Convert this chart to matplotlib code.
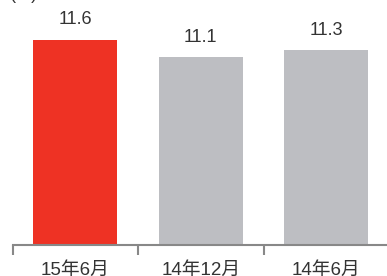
import matplotlib
matplotlib.use("Agg")
import matplotlib.pyplot as plt

categories = ["15年6月", "14年12月", "14年6月"]
values = [11.6, 11.1, 11.3]
colors = ["#EE3224", "#BDBEC2", "#BDBEC2"]

fonts = ["Liberation Sans", "Noto Sans CJK SC", "DejaVu Sans"]
plt.rcParams["font.family"] = fonts

fig = plt.figure(figsize=(3.87, 2.76), dpi=100)
ax = fig.add_axes([12.5 / 387, 1 - 245 / 276, 376.5 / 387, 245 / 276])

x = range(len(values))
ax.bar(x, values, width=0.67, color=colors)
for i, v in enumerate(values):
    ax.text(i, v + 0.33, f"{v:.1f}", ha="center", va="bottom",
            fontsize=13, color="#333333")

ax.set_xlim(-0.5, 2.5)
ax.set_ylim(5.8, 12.72)

for s in ["top", "right", "left"]:
    ax.spines[s].set_visible(False)
ax.spines["bottom"].set_color("#888888")
ax.spines["bottom"].set_linewidth(1.5)
ax.set_yticks([])

ax.set_xticks([-0.5, 0.5, 1.5, 2.5])
ax.set_xticklabels([])
ax.set_xticks(list(x), minor=True)
ax.set_xticklabels(categories, minor=True, fontsize=13.5, color="#333333")
ax.tick_params(axis="x", which="major", length=7, width=1.5, color="#888888")
ax.tick_params(axis="x", which="minor", length=0, pad=12)

fig.text(10 / 387, 1 + 1 / 276, "(%)", ha="left", va="baseline",
         fontsize=13, color="#333333")

fig.savefig("out.png", dpi=100)
